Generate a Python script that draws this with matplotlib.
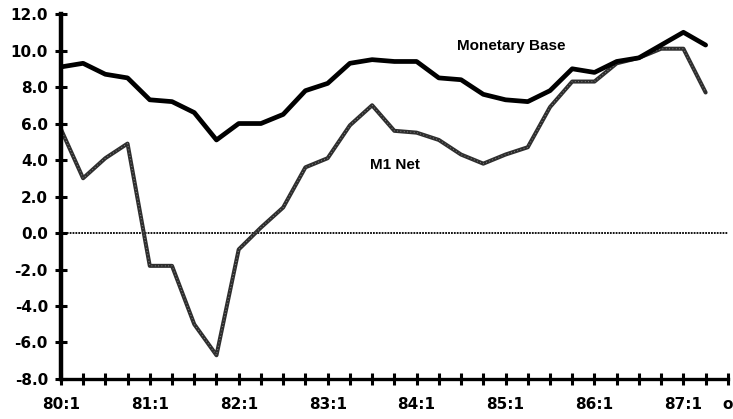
import matplotlib.pyplot as plt
import numpy as np

# quarterly growth rates, 80:1 .. 87:2
monetary_base = [9.1, 9.3, 8.7, 8.5, 7.3, 7.2, 6.6, 5.1, 6.0, 6.0,
                 6.5, 7.8, 8.2, 9.3, 9.5, 9.4, 9.4, 8.5, 8.4, 7.6,
                 7.3, 7.2, 7.8, 9.0, 8.8, 9.4, 9.6, 10.3, 11.0, 10.3]
m1_net = [5.7, 3.0, 4.1, 4.9, -1.8, -1.8, -5.0, -6.7, -0.9, 0.3,
          1.4, 3.6, 4.1, 5.9, 7.0, 5.6, 5.5, 5.1, 4.3, 3.8,
          4.3, 4.7, 6.9, 8.3, 8.3, 9.3, 9.6, 10.1, 10.1, 7.7]
tick_labels = {0: "80:1", 4: "81:1", 8: "82:1", 12: "83:1", 16: "84:1",
               20: "85:1", 24: "86:1", 28: "87:1", 30: "o"}
n_ticks = 31

x = np.arange(len(monetary_base))

fig = plt.figure(figsize=(7.33, 4.19), dpi=100)
ax = fig.add_axes([0.083, 0.0955, 0.91, 0.871])

ax.axhline(0, color="black", lw=1.3, ls=(0, (1.0, 0.6)), zorder=1)
# speckled look of the M1 line: dark base plus a faint light dotting
ax.plot(x, m1_net, color="#2e2e2e", lw=2.9, solid_joinstyle="round",
        solid_capstyle="round", zorder=2)
ax.plot(x, m1_net, color="#9a9a9a", lw=0.8, ls=(0, (0.6, 2.4)), zorder=2.5)
ax.plot(x, monetary_base, color="black", lw=3.4, solid_joinstyle="round",
        solid_capstyle="round", zorder=3)

ax.text(17.8, 10.25, "Monetary Base", fontsize=11, family="Liberation Sans",
        weight="bold", va="center", ha="left")
ax.text(13.9, 3.75, "M1 Net", fontsize=11, family="Liberation Sans",
        weight="bold", va="center", ha="left")

ax.set_xlim(0, n_ticks - 1)
ax.set_ylim(-8, 12)
ax.set_yticks(np.arange(-8, 13, 2))
ax.set_yticklabels(["%.1f" % v for v in np.arange(-8, 13, 2)])
ax.set_xticks(np.arange(n_ticks))
ax.set_xticklabels([tick_labels.get(i, "") for i in range(n_ticks)])

for side in ["top", "right"]:
    ax.spines[side].set_visible(False)
ax.spines["left"].set_linewidth(3.2)
ax.spines["bottom"].set_linewidth(2.4)

ax.tick_params(axis="both", direction="inout", length=8.5, width=2.2,
               labelsize=11)
ax.tick_params(axis="x", pad=9)
ax.tick_params(axis="y", pad=5)
for lab in ax.get_xticklabels() + ax.get_yticklabels():
    lab.set_fontweight("bold")

fig.savefig("out.png", dpi=100)
